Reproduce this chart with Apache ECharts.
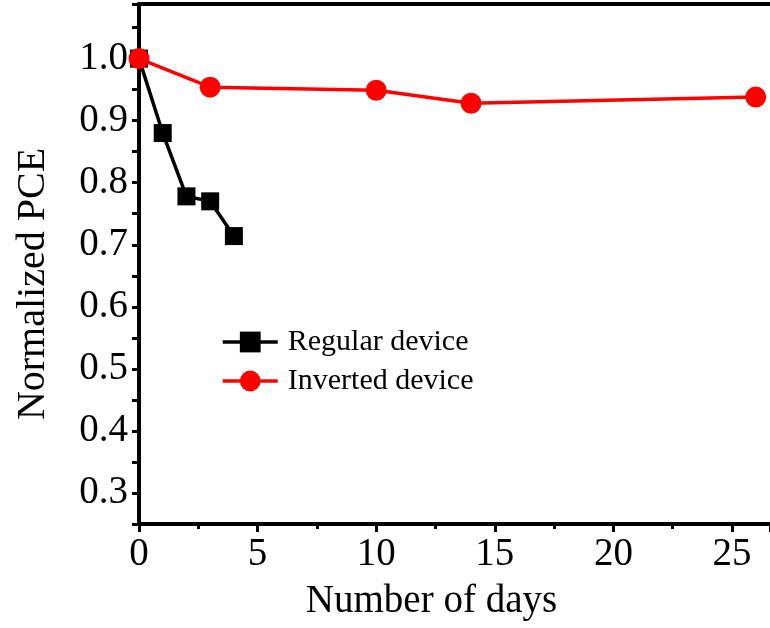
<!DOCTYPE html>
<html>
<head>
<meta charset="utf-8">
<script src="https://cdn.jsdelivr.net/npm/echarts@6/dist/echarts.min.js"></script>
<style>html,body{margin:0;padding:0;background:#fff;}#c{width:770px;height:628px;}</style>
</head>
<body>
<div id="c"></div>
<script>
const regularDays = [0, 1, 2, 3, 4];
const regularPCE = [1.0, 0.880, 0.778, 0.770, 0.714];
const invertedDays = [0, 3, 10, 14, 26];
const invertedPCE = [1.0, 0.954, 0.949, 0.928, 0.938];
const seriesNames = ['Regular device', 'Inverted device'];
const xTitle = 'Number of days';
const yTitle = 'Normalized PCE';

const font = 'Liberation Serif';
const chart = echarts.init(document.getElementById('c'), null, {renderer: 'canvas'});
const pair = (xs, ys) => xs.map((x, i) => [x, ys[i]]);

chart.setOption({
  animation: false,
  backgroundColor: '#fff',
  grid: {left: 139, right: 0, top: 4, bottom: 104, containLabel: false, outerBoundsMode: 'none'},
  legend: {
    left: 216, top: 322, orient: 'vertical',
    itemWidth: 55, itemHeight: 26, itemGap: 9,
    lineStyle: {width: 3.5},
    textStyle: {fontFamily: font, fontSize: 30, color: '#000', padding: [0, 0, 0, 5]},
    data: seriesNames
  },
  xAxis: [{
    type: 'value', min: 0, max: 26.6, interval: 5, position: 'bottom',
    axisLine: {lineStyle: {color: '#000', width: 4}},
    axisTick: {length: 8, lineStyle: {color: '#000', width: 3}},
    axisLabel: {fontFamily: font, fontSize: 39, color: '#000', margin: 11,
      formatter: v => (Math.abs(v % 5) < 1e-6 ? String(v) : '')},
    splitLine: {show: false},
    name: xTitle, nameLocation: 'middle', nameGap: 58,
    nameTextStyle: {fontFamily: font, fontSize: 39, color: '#000', padding: [0, 46, 0, 0]}
  }, {
    type: 'value', min: 0, max: 26.6, interval: 2.5, position: 'bottom',
    axisLine: {show: false},
    axisTick: {length: 5, lineStyle: {color: '#000', width: 3}},
    axisLabel: {show: false}, splitLine: {show: false}
  }, {
    type: 'value', min: 0, max: 26.6, position: 'top',
    axisLine: {lineStyle: {color: '#000', width: 4}},
    axisTick: {show: false}, axisLabel: {show: false}, splitLine: {show: false}
  }],
  yAxis: {
    type: 'value', min: 0.25, max: 1.088, interval: 0.05,
    axisLine: {lineStyle: {color: '#000', width: 4}},
    axisTick: {length: 7, lineStyle: {color: '#000', width: 3}},
    axisLabel: {fontFamily: font, fontSize: 39, color: '#000', margin: 11,
      formatter: v => {const r = Math.round(v * 100); return (r % 10 === 0 && r <= 100) ? (r / 100).toFixed(1) : '';}},
    splitLine: {show: false},
    name: yTitle, nameLocation: 'middle', nameGap: 86, nameRotate: 90,
    nameTextStyle: {fontFamily: font, fontSize: 40, color: '#000', padding: [0, 40, 0, 0]}
  },
  series: [{
    name: seriesNames[0], type: 'line', xAxisIndex: 0,
    data: pair(regularDays, regularPCE),
    symbol: 'rect', symbolSize: 18,
    lineStyle: {color: '#000', width: 3.5}, itemStyle: {color: '#000'}
  }, {
    name: seriesNames[1], type: 'line', xAxisIndex: 0,
    data: pair(invertedDays, invertedPCE),
    symbol: 'circle', symbolSize: 21,
    lineStyle: {color: '#ff0000', width: 3.5}, itemStyle: {color: '#ff0000'}
  }]
});
</script>
</body>
</html>
